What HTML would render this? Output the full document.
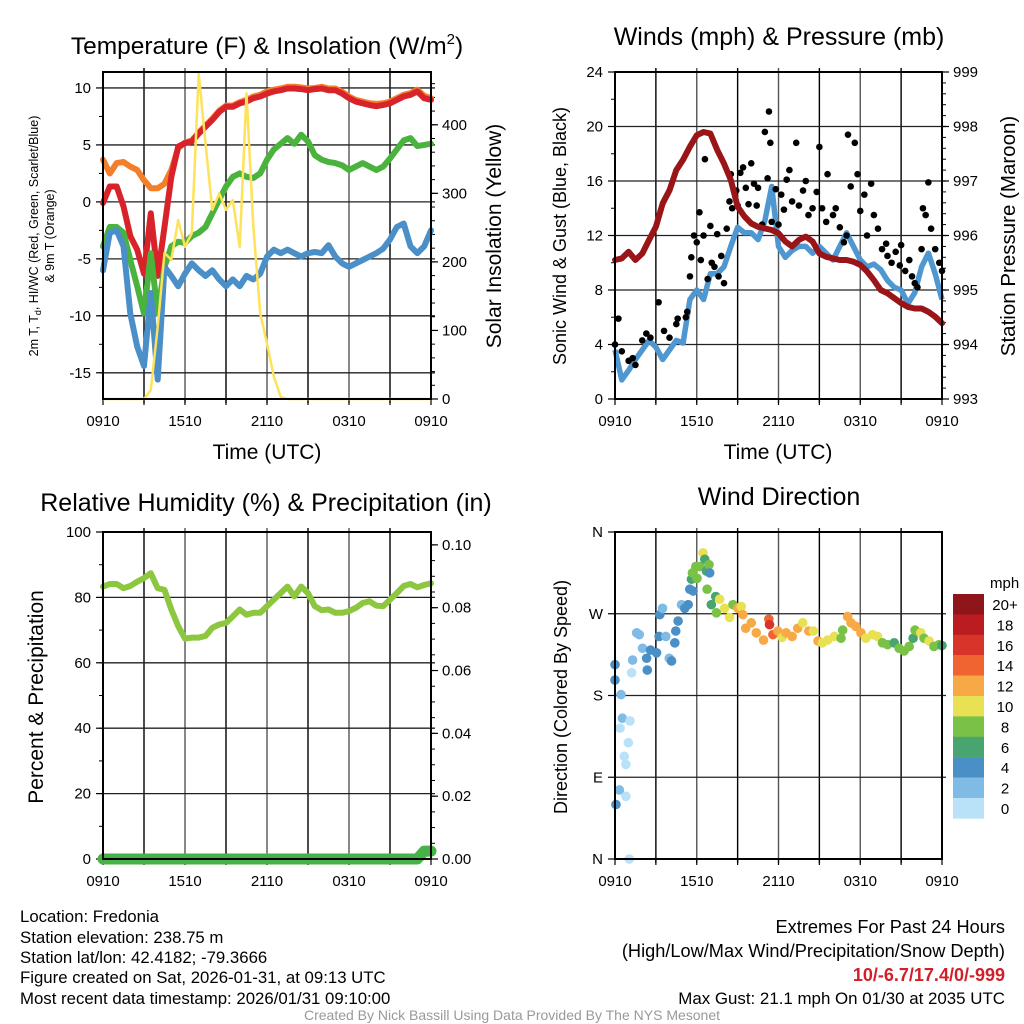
<!DOCTYPE html>
<html><head><meta charset="utf-8">
<style>
html,body{margin:0;padding:0;background:#fff;}
svg{display:block;font-family:"Liberation Sans",Arial,sans-serif;}
</style></head>
<body>
<svg id="chart" width="1024" height="1024" viewBox="0 0 1024 1024" xmlns="http://www.w3.org/2000/svg">
<rect x="0" y="0" width="1024" height="1024" fill="#fff"/>
<text x="267" y="54" font-size="24.5" text-anchor="middle">Temperature (F) &amp; Insolation (W/m<tspan font-size="15" dy="-10">2</tspan><tspan dy="10">)</tspan></text>
<text x="779" y="45" font-size="25" text-anchor="middle">Winds (mph) &amp; Pressure (mb)</text>
<text x="266" y="511" font-size="25" text-anchor="middle">Relative Humidity (%) &amp; Precipitation (in)</text>
<text x="779" y="505" font-size="25" text-anchor="middle">Wind Direction</text>
<text x="267" y="459" font-size="21" text-anchor="middle">Time (UTC)</text>
<text x="778" y="459" font-size="21" text-anchor="middle">Time (UTC)</text>
<text transform="translate(38,236) rotate(-90)" font-size="12.5" text-anchor="middle">2m T, T<tspan font-size="9" dy="3">d</tspan><tspan dy="-3">, HI/WC (Red, Green, Scarlet/Blue)</tspan></text>
<text transform="translate(54,236) rotate(-90)" font-size="12.5" text-anchor="middle">&amp; 9m T (Orange)</text>
<text transform="translate(501,236) rotate(-90)" font-size="21" text-anchor="middle">Solar Insolation (Yellow)</text>
<text transform="translate(566,236) rotate(-90)" font-size="18" text-anchor="middle">Sonic Wind &amp; Gust (Blue, Black)</text>
<text transform="translate(1015,236) rotate(-90)" font-size="20.5" text-anchor="middle">Station Pressure (Maroon)</text>
<text transform="translate(43,697) rotate(-90)" font-size="21" text-anchor="middle">Percent &amp; Precipitation</text>
<text transform="translate(567,697) rotate(-90)" font-size="18" text-anchor="middle">Direction (Colored By Speed)</text>
<g font-size="16.8">
<text x="20" y="922">Location: Fredonia</text>
<text x="20" y="943">Station elevation: 238.75 m</text>
<text x="20" y="963">Station lat/lon: 42.4182; -79.3666</text>
<text x="20" y="983">Figure created on Sat, 2026-01-31, at 09:13 UTC</text>
<text x="20" y="1004">Most recent data timestamp: 2026/01/31 09:10:00</text>
</g>
<g text-anchor="end">
<text x="1005" y="933" font-size="18.2">Extremes For Past 24 Hours</text>
<text x="1005" y="957" font-size="18.2">(High/Low/Max Wind/Precipitation/Snow Depth)</text>
<text x="1005" y="981" font-size="18" fill="#d0202a" font-weight="bold">10/-6.7/17.4/0/-999</text>
<text x="1005" y="1004" font-size="16.9">Max Gust: 21.1 mph On 01/30 at 2035 UTC</text>
</g>
<text x="512" y="1020" font-size="14" fill="#999" text-anchor="middle">Created By Nick Bassill Using Data Provided By The NYS Mesonet</text>
</svg>
<script>
// ---------- data ----------
const timeHalf = [0,0.5,1,1.5,2,2.5,3,3.5,4,4.5,5,5.5,6,6.5,7,7.5,8,8.5,9,9.5,10,10.5,11,11.5,12,12.5,13,13.5,14,14.5,15,15.5,16,16.5,17,17.5,18,18.5,19,19.5,20,20.5,21,21.5,22,22.5,23,23.5,24];
const timeLabels = ["0910","1510","2110","0310","0910"];
const timeLabelHours = [0,6,12,18,24];
const tempRed = [-0.1,1.35,1.35,-0.4,-3.0,-4.2,-6.3,-1.0,-6.5,-2.2,2.2,4.85,5.15,5.3,6.0,6.6,7.2,7.9,8.35,8.35,8.65,8.8,9.1,9.25,9.5,9.7,9.8,9.95,9.95,9.9,9.8,9.9,9.95,9.8,9.8,9.5,9.1,8.8,8.65,8.5,8.4,8.5,8.65,8.95,9.25,9.4,9.7,9.1,8.95];
const tempOrange = [3.7,2.5,3.4,3.5,3.1,2.8,1.9,1.2,1.2,1.6,2.8,4.7,5.2,5.4,6.1,6.7,7.3,8.0,8.45,8.45,8.75,8.95,9.25,9.4,9.7,9.85,9.95,10.1,10.1,10.05,9.95,10.0,10.1,9.95,9.95,9.65,9.25,8.95,8.8,8.65,8.6,8.65,8.8,9.1,9.4,9.55,9.85,9.3,9.1];
const tempGreen = [-3.9,-2.2,-2.2,-2.7,-5.1,-7.4,-9.8,-4.5,-9.8,-5.7,-3.9,-3.5,-3.6,-3.0,-2.7,-2.2,-1.0,0.2,1.35,2.2,2.5,2.2,2.1,2.5,3.7,4.6,5.1,5.6,5.1,5.9,5.3,4.1,3.7,3.5,3.4,3.2,2.8,3.1,3.4,3.1,2.8,3.1,3.8,4.6,5.4,5.6,4.9,5.0,5.1];
const tempBlue = [-6.0,-2.7,-2.5,-3.9,-9.8,-12.7,-14.4,-8.0,-15.6,-5.7,-6.5,-7.4,-6.3,-5.4,-6.0,-6.5,-6.0,-6.8,-7.4,-6.8,-7.4,-6.5,-6.8,-6.3,-4.8,-4.2,-4.5,-4.2,-4.5,-4.8,-4.5,-4.4,-4.5,-3.8,-4.8,-5.4,-5.7,-5.4,-5.1,-4.8,-4.5,-4.1,-3.3,-2.2,-1.9,-3.9,-4.5,-3.9,-2.5];
const solar = [0,0,0,0,0,0,0,13,105,213,203,261,222,242,475,373,276,300,276,290,222,446,252,125,81,33,3,0,0,0,0,0,0,0,0,0,0,0,0,0,0,0,0,0,0,0,0,0,0];
const windSpeed = [3.6,1.4,2.1,2.9,3.6,4.3,3.8,2.9,3.6,4.3,4.1,7.3,8.0,7.3,9.2,9.2,9.7,11.2,12.6,12.2,12.2,11.7,13.1,15.6,11.2,10.4,10.9,11.2,11.2,10.7,11.2,10.7,10.2,11.2,12.2,11.2,10.2,9.7,9.9,9.5,8.7,8.2,8.0,7.0,7.8,9.7,10.7,9.2,7.3];
const pressure = [995.55,995.58,995.7,995.55,995.67,995.92,996.16,996.59,996.83,997.2,997.39,997.63,997.84,997.9,997.87,997.57,997.32,997.02,996.53,996.35,996.22,996.16,996.13,996.1,996.04,995.89,995.8,995.92,995.98,995.89,995.67,995.61,995.58,995.55,995.55,995.52,995.46,995.34,995.18,995.0,994.94,994.85,994.76,994.69,994.66,994.66,994.6,994.51,994.39];
const gustTimes = [0,0.25,0.5,1,1.3,1.5,2,2.3,2.6,3.2,3.6,4,4.5,4.6,5.2,5.3,5.5,5.6,5.8,6,6.2,6.3,6.5,6.6,6.8,7,7.1,7.3,7.5,7.6,7.8,8,8.2,8.4,8.5,8.6,8.9,9.0,9.2,9.4,9.6,9.8,10,10.2,10.4,10.5,10.8,11,11.2,11.3,11.4,11.5,11.8,12,12.2,12.4,12.6,12.8,13,13.3,13.5,13.8,14,14.2,14.5,14.8,15,15.2,15.5,15.6,16,16.2,16.5,16.8,17,17.1,17.3,17.6,17.8,18,18.3,18.5,18.8,19,19.3,19.6,19.9,20,20.3,20.6,20.9,21,21.3,21.6,21.8,22,22.2,22.5,22.6,22.8,23,23.2,23.5,23.8,24];
const gustValues = [4.0,5.9,3.5,2.8,3.0,2.5,4.3,4.8,4.5,7.1,5.0,4.5,5.5,5.9,6.0,6.4,9.0,10.4,12.0,11.5,13.7,10.2,12.0,17.6,8.8,12.7,10.0,9.7,12.1,9.0,10.5,8.5,12.5,14.5,16.5,14.0,15.3,14.2,16.6,17.0,15.5,14.3,17.3,15.8,14.2,15.5,12.8,19.6,16.2,21.1,18.8,13.0,15.4,12.8,15.0,13.9,16.1,16.8,14.5,18.8,14.2,15.3,16.0,13.5,14.0,15.2,18.5,14.0,13.0,16.5,13.5,14.0,12.6,11.5,12.0,19.4,15.6,18.8,16.5,13.8,15.0,12.0,15.8,13.5,12.5,11.0,11.4,10.5,10.0,10.8,9.8,11.3,9.4,10.2,9.0,8.5,8.2,11.0,14.0,13.5,15.9,12.5,11.0,10.0,9.4];
const rh = [83.3,84.1,84.1,82.8,83.5,84.8,85.9,87.4,82.8,82.3,76.3,71.2,67.4,67.7,67.7,68.2,70.7,71.7,72.2,74.2,76.3,74.7,75.3,75.3,77.3,79.3,81.3,83.3,80.3,83.3,81.3,77.3,76.1,76.3,75.3,75.3,75.8,76.8,78.3,78.8,77.5,77.3,79.3,81.3,83.5,84.1,83.1,83.8,84.3];
const precip = [0,0,0,0,0,0,0,0,0,0,0,0,0,0,0,0,0,0,0,0,0,0,0,0,0,0,0,0,0,0,0,0,0,0,0,0,0,0,0,0,0,0,0,0,0,0,0,0.0025,0.0025];
const dirTimes = [0,0,0.07,0.32,0.8,0.44,0.54,0.37,1.1,0.98,0.68,0.8,1.05,1.22,1.29,1.59,1.78,2.02,2.32,2.37,2.61,3.05,3.24,3.29,3.49,3.73,3.98,4.15,4.39,4.46,4.63,4.88,5.12,5.37,5.49,5.61,5.73,5.68,5.93,6.02,6.22,6.46,6.59,6.71,6.9,6.95,6.76,7.07,7.39,7.44,7.68,8.05,8.41,8.66,9.02,9.27,9.39,9.59,10.0,10.37,10.9,11.29,11.34,11.59,11.95,12.27,12.56,13.0,13.41,13.78,14.22,14.56,14.9,15.22,15.61,16.1,16.59,16.71,17.07,17.32,17.68,18.05,18.41,18.9,19.27,19.63,20.0,20.49,20.85,21.22,21.59,21.88,22.02,22.44,22.68,23.05,23.41,23.78,24.0];
const dirValues = [214,197,60,76,69,181,155,144,152,128,113,104,0,205,219,249,247,232,221,208,230,227,245,269,276,245,221,218,238,251,262,280,276,280,297,308,295,315,322,309,322,337,330,317,324,315,297,280,289,271,286,276,266,280,276,278,269,254,260,249,241,264,258,247,251,244,249,245,254,260,251,251,240,238,241,245,243,252,267,260,256,249,243,247,245,238,236,238,232,229,234,243,252,249,243,240,234,236,235];
const dirSpeeds = [4,4,4,2,1,3,2,1,1,1,1,1,1,1,2,2,2,2,4,4,4,4,4,4,2,2,2,4,4,4,4,2,4,4,4,6,4,8,8,8,8,10,6,6,8,4,8,6,6,8,10,10,10,8,12,10,12,12,12,12,12,14,16,14,12,10,12,12,12,10,12,10,12,10,10,10,8,8,12,12,12,12,10,10,10,8,8,6,8,8,8,6,8,10,8,10,8,8,6];
const cbLabels = ["20+","18","16","14","12","10","8","6","4","2","0"];
const cbColors = ["#8e1519","#bb1c22","#d9342a","#ef6430","#f7a945","#e7e153","#7ac148","#48a56f","#4a8fc6","#7fbbe5","#b9e1f7"];

// ---------- helpers ----------
const NS = "http://www.w3.org/2000/svg";
const svg = document.getElementById("chart");
function mk(tag, parent, attrs) {
  const e = document.createElementNS(NS, tag);
  for (const k in attrs) e.setAttribute(k, attrs[k]);
  parent.appendChild(e);
  return e;
}
function scale(d0, d1, r0, r1) { return v => r0 + (v - d0) * (r1 - r0) / (d1 - d0); }
function pathFrom(xs, ys, fx, fy) {
  let d = "";
  for (let i = 0; i < xs.length; i++) d += (i ? "L" : "M") + fx(xs[i]).toFixed(1) + " " + fy(ys[i]).toFixed(1);
  return d;
}
function speedColor(s) {
  let idx = Math.floor(s / 2); if (idx > 10) idx = 10;
  return cbColors[10 - idx];
}
const TICKFS = 15;

function panel(name, L, R, T, B, opts) {
  const g = mk("g", svg, {});
  
  
  const fx = scale(0, 24, L, R);
  const fyL = scale(opts.lmin, opts.lmax, B, T);
  for (let h = 3; h < 24; h += 3) {
    const l = mk("line", g, {x1: fx(h), x2: fx(h), y1: T - 4, y2: B + 4, stroke: (h % 6 === 0) ? "#555" : "#000", "stroke-width": 1.4});
    
    
  }
  opts.grid.forEach(v => {
    const l = mk("line", g, {x1: L, x2: R + 4, y1: fyL(v), y2: fyL(v), stroke: "#222", "stroke-width": 1.3});
    
    
  });
  opts.lminor.forEach(v => { const l = mk("line", g, {x1: L - 4, x2: L, y1: fyL(v), y2: fyL(v), stroke: "#000", "stroke-width": 1});   });
  opts.lmajor.forEach((v, i) => {
    const l = mk("line", g, {x1: L - 7, x2: L, y1: fyL(v), y2: fyL(v), stroke: "#000", "stroke-width": 1.2});
    
    
    const t = mk("text", g, {x: L - 12, y: fyL(v) + 5, "font-size": TICKFS, "text-anchor": "end"});
    t.textContent = opts.llabels[i];
    
    
  });
  if (opts.rmajor) {
    const fyR = scale(opts.rmin, opts.rmax, B, T);
    opts.rminor.forEach(v => { const l = mk("line", g, {x1: R, x2: R + 4, y1: fyR(v), y2: fyR(v), stroke: "#000", "stroke-width": 1});   });
    opts.rmajor.forEach((v, i) => {
      const l = mk("line", g, {x1: R, x2: R + 7, y1: fyR(v), y2: fyR(v), stroke: "#000", "stroke-width": 1.2});
      
      
      const t = mk("text", g, {x: R + 11, y: fyR(v) + 5, "font-size": TICKFS});
      t.textContent = opts.rlabels[i];
      
      
    });
  }
  for (let h = 0; h <= 24; h += 3) {
    const l = mk("line", g, {x1: fx(h), x2: fx(h), y1: B, y2: B + 6, stroke: "#000", "stroke-width": 1.2});
    
    
  }
  timeLabelHours.forEach((h, i) => {
    const t = mk("text", g, {x: fx(h), y: B + 27, "font-size": TICKFS, "text-anchor": "middle"});
    t.textContent = timeLabels[i];
    
    
  });
  return {g, fx, fyL, L, R, T, B};
}
function frame(p, name) {
  const r = mk("rect", svg, {x: p.L, y: p.T, width: p.R - p.L, height: p.B - p.T, fill: "none", stroke: "#000", "stroke-width": 2});
  
  
}
function rng(a, b, s) { const o = []; for (let v = a; v <= b + 1e-9; v += s) o.push(+v.toFixed(4)); return o; }

// ---------- panel 1 ----------
const p1 = panel("temperature-panel", 103, 431, 72, 399, {
  lmin: -17.3, lmax: 11.4, grid: [-15,-10,-5,0,5,10], lmajor: [-15,-10,-5,0,5,10], llabels: ["-15","-10","-5","0","5","10"],
  lminor: rng(-17.5, 10, 2.5).filter(v => v >= -17.3),
  rmin: 0, rmax: 477, rmajor: [0,100,200,300,400], rlabels: ["0","100","200","300","400"], rminor: rng(0, 460, 20)
});
const fyS = scale(0, 477, 399, 72);
[[tempOrange, "#f47f2a", "nine-meter-temp-line"], [tempRed, "#d9232a", "two-meter-temp-line"], [tempGreen, "#4ab33e", "dewpoint-line"], [tempBlue, "#4a8fc8", "wind-chill-line"]].forEach(s => {
  const pth = mk("path", svg, {d: pathFrom(timeHalf, s[0], p1.fx, p1.fyL), fill: "none", stroke: s[1], "stroke-width": 6, "stroke-linejoin": "round", "stroke-linecap": "round"});
  
  
});
const solarPath = mk("path", svg, {d: pathFrom(timeHalf, solar, p1.fx, fyS), fill: "none", stroke: "#fde25a", "stroke-width": 2.5, "stroke-linejoin": "round"});


frame(p1, "temperature-plot-frame");

// ---------- panel 2 ----------
const p2 = panel("winds-panel", 615, 942, 72, 399, {
  lmin: 0, lmax: 24, grid: [4,8,12,16,20], lmajor: [0,4,8,12,16,20,24], llabels: ["0","4","8","12","16","20","24"], lminor: rng(0, 24, 2),
  rmin: 993, rmax: 999, rmajor: [993,994,995,996,997,998,999], rlabels: ["993","994","995","996","997","998","999"], rminor: rng(993, 999, 0.2)
});
const fyP = scale(993, 999, 399, 72);
const windPath = mk("path", svg, {d: pathFrom(timeHalf, windSpeed, p2.fx, p2.fyL), fill: "none", stroke: "#4f97d0", "stroke-width": 5.5, "stroke-linejoin": "round"});


gustTimes.forEach((t, i) => {
  const c = mk("circle", svg, {cx: p2.fx(t), cy: p2.fyL(gustValues[i]), r: 3.3, fill: "#000"});
  
  
});
const presPath = mk("path", svg, {d: pathFrom(timeHalf, pressure, p2.fx, fyP), fill: "none", stroke: "#9a1518", "stroke-width": 6, "stroke-linejoin": "round", "stroke-linecap": "round"});


frame(p2, "winds-plot-frame");

// ---------- panel 3 ----------
const p3 = panel("humidity-panel", 103, 431, 532, 859, {
  lmin: 0, lmax: 100, grid: [20,40,60,80], lmajor: [0,20,40,60,80,100], llabels: ["0","20","40","60","80","100"], lminor: rng(0, 100, 10),
  rmin: 0, rmax: 0.1041, rmajor: [0,0.02,0.04,0.06,0.08,0.1], rlabels: ["0.00","0.02","0.04","0.06","0.08","0.10"], rminor: rng(0, 0.1, 0.005)
});
const fyPr = scale(0, 0.1041, 859, 532);
const rhPath = mk("path", svg, {d: pathFrom(timeHalf, rh, p3.fx, p3.fyL), fill: "none", stroke: "#8dc63f", "stroke-width": 6, "stroke-linejoin": "round", "stroke-linecap": "round"});


const prPath = mk("path", svg, {d: pathFrom(timeHalf, precip, p3.fx, fyPr), fill: "none", stroke: "#47b248", "stroke-width": 11, "stroke-linejoin": "round", "stroke-linecap": "round"});


frame(p3, "humidity-plot-frame");

// ---------- panel 4 ----------
const p4 = panel("wind-direction-panel", 615, 942, 532, 859, {
  lmin: 0, lmax: 360, grid: [90,180,270], lmajor: [0,90,180,270,360], llabels: ["N","E","S","W","N"], lminor: []
});
dirTimes.forEach((t, i) => {
  const c = mk("circle", svg, {cx: p4.fx(t), cy: p4.fyL(dirValues[i]), r: 4.8, fill: speedColor(dirSpeeds[i])});
  
  
});
frame(p4, "wind-direction-plot-frame");

const cb = mk("g", svg, {});


const cbTitle = mk("text", cb, {x: 990, y: 588, "font-size": 15});
cbTitle.textContent = "mph";


cbColors.forEach((col, i) => {
  const r = mk("rect", cb, {x: 953, y: 594 + i * 20.4, width: 31, height: 20.6, fill: col});
  
  
  const t = mk("text", cb, {x: 1005, y: 610 + i * 20.4, "font-size": 15, "text-anchor": "middle"});
  t.textContent = cbLabels[i];
  
  
});
</script>
</body></html>
